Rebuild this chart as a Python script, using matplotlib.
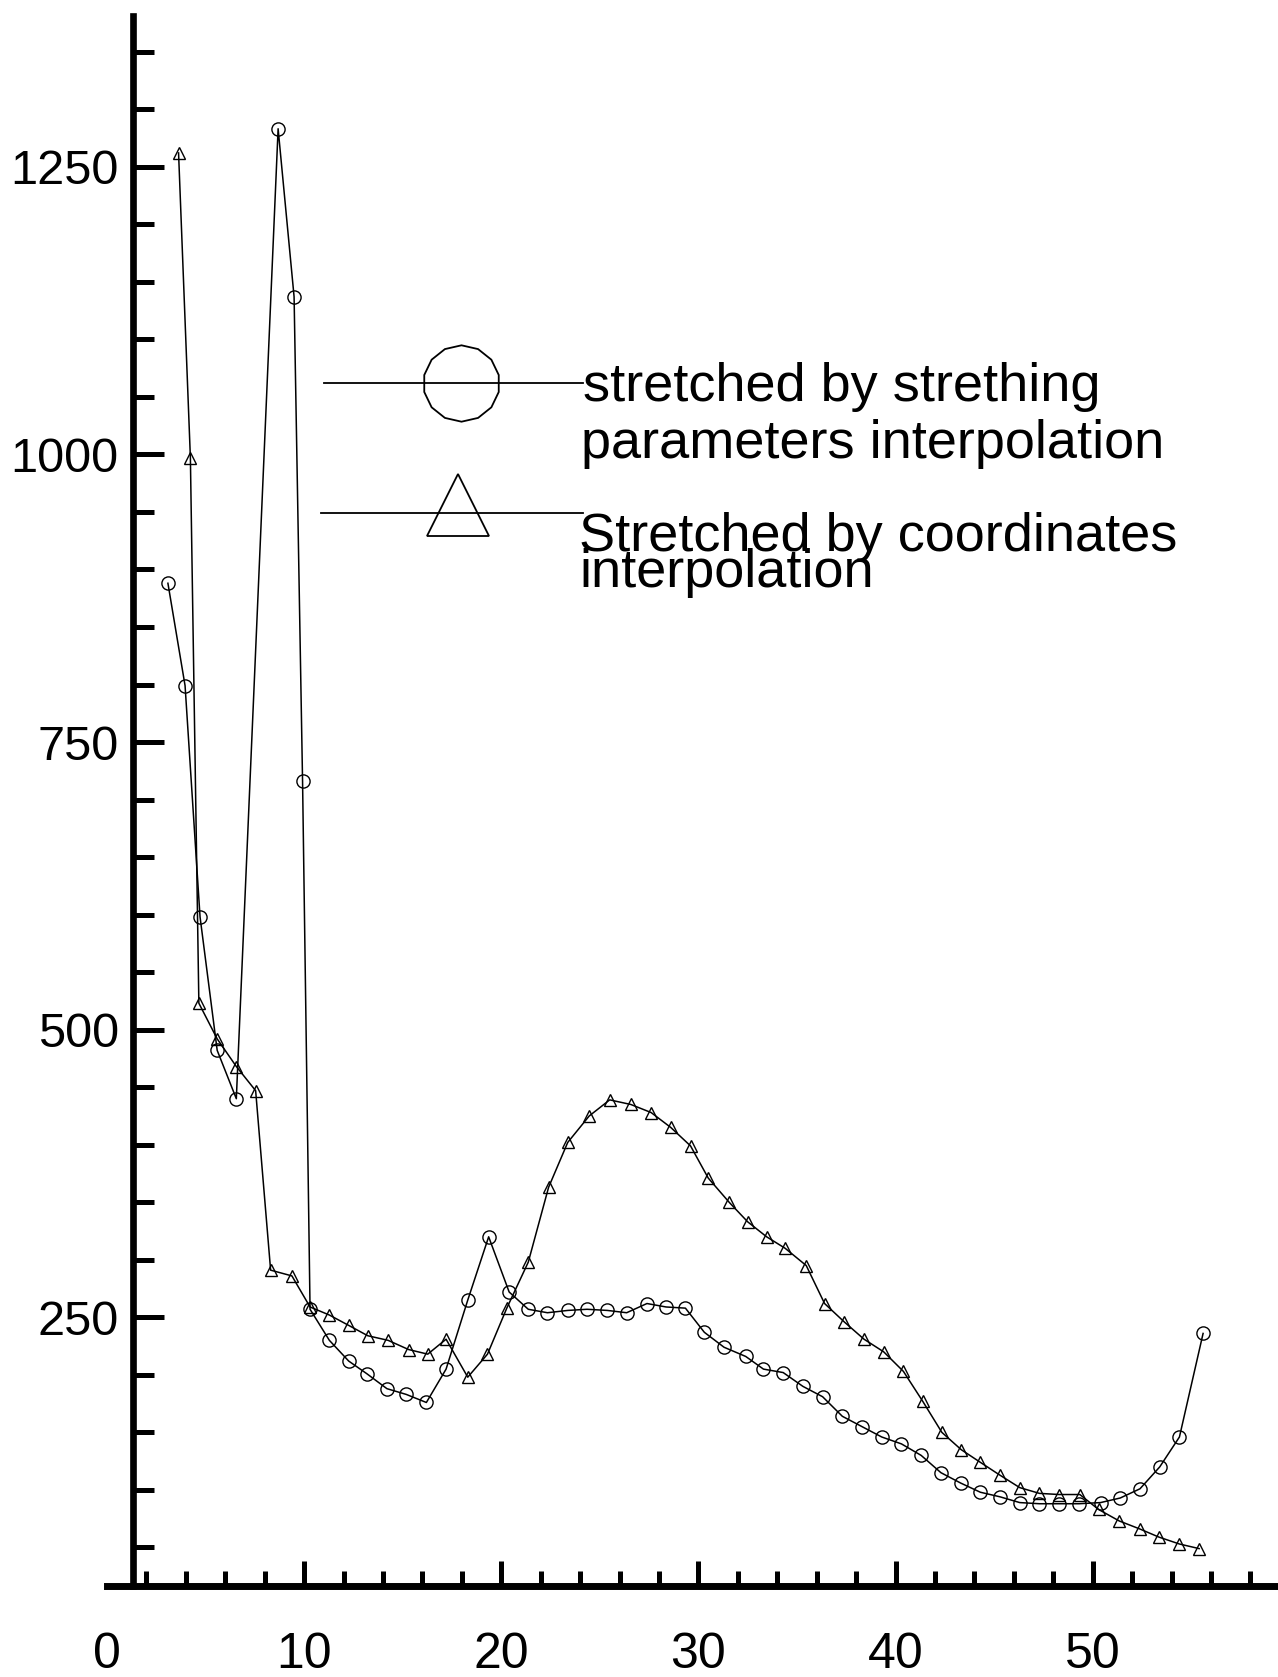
import matplotlib
matplotlib.use('Agg')
import matplotlib.pyplot as plt
from matplotlib.lines import Line2D
from matplotlib.ticker import MultipleLocator

plt.rcParams['font.family'] = ['Liberation Sans', 'DejaVu Sans']

# circles: stretched by stretching parameters interpolation
x_par = [3.09, 3.96, 4.72, 5.59, 6.56, 8.68, 9.49, 9.92, 10.3, 11.28, 12.26, 13.18,
         14.2, 15.18, 16.2, 17.2, 18.3, 19.36, 20.4, 21.37, 22.34, 23.37, 24.35,
         25.38, 26.36, 27.39, 28.36, 29.34, 30.3, 31.3, 32.4, 33.3, 34.3, 35.3,
         36.3, 37.3, 38.3, 39.3, 40.3, 41.3, 42.3, 43.3, 44.3, 45.3, 46.3, 47.3,
         48.3, 49.3, 50.4, 51.4, 52.4, 53.4, 54.4, 55.6]
y_par = [888, 799, 598, 482, 440, 1283, 1137, 716, 257, 230, 212, 201,
         188, 183, 176, 205, 265, 320, 272, 257, 254, 256, 257,
         256, 254, 262, 259, 258, 237, 224, 216, 205, 202, 190,
         181, 164, 155, 146, 140, 130, 115, 106, 98, 94, 89, 88,
         88, 88, 89, 93, 101, 120, 146, 236]

# triangles: stretched by coordinates interpolation
x_crd = [3.63, 4.23, 4.66, 5.59, 6.56, 7.54, 8.3, 9.38, 10.3, 11.28, 12.26, 13.23,
         14.26, 15.3, 16.27, 17.2, 18.3, 19.3, 20.28, 21.37, 22.4, 23.37, 24.46,
         25.5, 26.57, 27.6, 28.6, 29.6, 30.5, 31.56, 32.5, 33.46, 34.4, 35.47,
         36.4, 37.4, 38.4, 39.4, 40.4, 41.38, 42.35, 43.33, 44.3, 45.28, 46.3,
         47.3, 48.3, 49.35, 50.3, 51.35, 52.4, 53.36, 54.4, 55.4]
y_crd = [1262, 997, 523, 492, 468, 447, 291, 286, 259, 252, 243, 234,
         230, 222, 218, 231, 198, 218, 258, 298, 363, 402, 425,
         439, 435, 428, 415, 399, 371, 350, 333, 320, 310, 295,
         262, 246, 231, 220, 203, 177, 150, 135, 124, 113, 102,
         97, 96, 96, 83, 73, 66, 59, 53, 49]

x_ticks = [0, 10, 20, 30, 40, 50]
y_ticks = [250, 500, 750, 1000, 1250]

label_par = ['stretched by strething', 'parameters interpolation']
label_crd = ['Stretched by coordinates', 'interpolation']

W, H = 1278, 1677
fig = plt.figure(figsize=(W / 100, H / 100), dpi=100)
fig.patch.set_facecolor('white')
ax = fig.add_axes([107 / W, 1 - 1586 / H, 1 - 107 / W, (1586 - 16) / H])

ax.plot(x_par, y_par, color='black', lw=1.1, marker='o', ms=9.5,
        mfc='none', mec='black', mew=1.0)
ax.plot(x_crd, y_crd, color='black', lw=1.1, marker='^', ms=8.5,
        mfc='none', mec='black', mew=1.0)

ax.set_xlim(0, 59.4)
ax.set_ylim(16.5, 1381)

for s in ['top', 'right']:
    ax.spines[s].set_visible(False)
# the scanned y axis sits a little right of x=0
ax.spines['left'].set_position(('data', 1.3))
ax.spines['left'].set_linewidth(4.8)
ax.spines['bottom'].set_linewidth(5)

ax.set_xticks(x_ticks)
ax.xaxis.set_minor_locator(MultipleLocator(2))
ax.set_yticks(y_ticks)
ax.yaxis.set_minor_locator(MultipleLocator(50))

ax.tick_params(axis='x', which='major', direction='in', length=18, width=3.6,
               pad=33, labelsize=36)
ax.tick_params(axis='x', which='minor', direction='in', length=11, width=3.6)
ax.tick_params(axis='y', which='major', direction='in', length=22, width=3.6,
               pad=10, labelsize=35)
ax.tick_params(axis='y', which='minor', direction='in', length=15, width=3.6)
# no stub at x=0, left of the y axis
ax.xaxis.get_major_ticks()[0].tick1line.set_visible(False)


def px(x, y):
    return x / W, 1 - y / H


# hand-placed legend, the way the original sits on the page
x0, y0 = px(324, 383)
x1, _ = px(583, 383)
fig.add_artist(Line2D([x0, x1], [y0, y0], color='black', lw=1.3,
                      transform=fig.transFigure))
mx, my = px(461, 383)
fig.add_artist(Line2D([mx], [my], marker=(14, 0, 0), ms=55, mfc='none',
                      mec='black', mew=1.3, transform=fig.transFigure))

x0, y0 = px(321, 513)
fig.add_artist(Line2D([x0, x1], [y0, y0], color='black', lw=1.3,
                      transform=fig.transFigure))
mx, my = px(458, 505)
fig.add_artist(Line2D([mx], [my], marker='^', ms=44, mfc='none',
                      mec='black', mew=1.3, transform=fig.transFigure))

for txt, (tx, ty) in zip(label_par, [(583, 401), (581, 458)]):
    fig.text(*px(tx, ty), txt, fontsize=39, va='baseline', ha='left')
for txt, (tx, ty) in zip(label_crd, [(579, 551), (579, 587)]):
    fig.text(*px(tx, ty), txt, fontsize=39, va='baseline', ha='left')

fig.savefig('out.png', dpi=100, facecolor='white')
